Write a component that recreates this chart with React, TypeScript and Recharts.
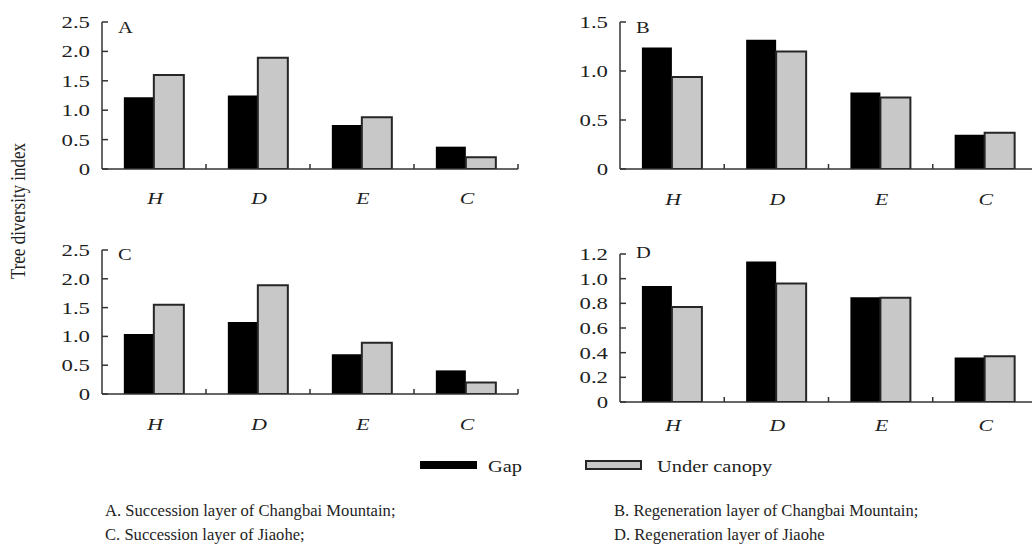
import React from 'react';
import { BarChart, Bar, XAxis, YAxis } from 'recharts';

// ---------- data ----------
const categories = ['H', 'D', 'E', 'C'];

const aGap = [1.22, 1.25, 0.75, 0.38];
const aUnder = [1.6, 1.89, 0.88, 0.2];
const bGap = [1.24, 1.32, 0.78, 0.35];
const bUnder = [0.94, 1.2, 0.73, 0.37];
const cGap = [1.04, 1.25, 0.69, 0.41];
const cUnder = [1.55, 1.89, 0.89, 0.2];
const dGap = [0.94, 1.14, 0.85, 0.36];
const dUnder = [0.77, 0.96, 0.845, 0.37];

const ticksAC = [0, 0.5, 1.0, 1.5, 2.0, 2.5];
const ticksB = [0, 0.5, 1.0, 1.5];
const ticksD = [0, 0.2, 0.4, 0.6, 0.8, 1.0, 1.2];

const panelLetters = ['A', 'B', 'C', 'D'];
const seriesNames = ['Gap', 'Under canopy'];
const yTitle = 'Tree diversity index';
const captions = [
  'A. Succession layer of Changbai Mountain;',
  'B. Regeneration layer of Changbai Mountain;',
  'C. Succession layer of Jiaohe;',
  'D. Regeneration layer of Jiaohe',
];

// ---------- style ----------
const FONT = '"Liberation Serif", "Times New Roman", serif';
const TXT = '#1e1e1e';
const AXIS = '#333';
const SX = 1.28; // horizontal stretch of the source figure (axis text)
const CAP_SX = 0.95; // captions
const GAP_FILL = '#000000';
const UNDER_FILL = '#c8c8c8';
const UNDER_STROKE = '#262626';

const CW = 522;
const CH = 215;
const YW = 60;

type PanelCfg = {
  letter: string;
  gap: number[];
  under: number[];
  ticks: number[];
  left: number;
  top: number;
  margin: { top: number; right: number; bottom: number; left: number };
  labelDy: number;
  letterDy: number;
};

const panels: PanelCfg[] = [
  { letter: panelLetters[0], gap: aGap, under: aUnder, ticks: ticksAC, left: 0, top: 0,
    margin: { top: 22, right: 4, bottom: 6, left: 42 }, labelDy: 35, letterDy: 11 },
  { letter: panelLetters[1], gap: bGap, under: bUnder, ticks: ticksB, left: 518, top: 0,
    margin: { top: 22, right: 3, bottom: 6, left: 42 }, labelDy: 36, letterDy: 11 },
  { letter: panelLetters[2], gap: cGap, under: cUnder, ticks: ticksAC, left: 0, top: 228,
    margin: { top: 22, right: 4, bottom: 9, left: 42 }, labelDy: 36, letterDy: 10 },
  { letter: panelLetters[3], gap: dGap, under: dUnder, ticks: ticksD, left: 518, top: 228,
    margin: { top: 26, right: 3, bottom: 1, left: 42 }, labelDy: 29, letterDy: 4 },
];

function SText(props: {
  x: number; y: number; anchor?: 'start' | 'middle' | 'end'; italic?: boolean; size?: number;
  sx?: number; children: React.ReactNode;
}) {
  const { x, y, anchor = 'start', italic = false, size = 16, sx = SX, children } = props;
  return (
    <text
      transform={`translate(${x},${y}) scale(${sx},1)`}
      x={0}
      y={0}
      textAnchor={anchor}
      fontFamily={FONT}
      fontSize={size}
      fontStyle={italic ? 'italic' : 'normal'}
      fill={TXT}
    >
      {children}
    </text>
  );
}

const fmt = (v: number) => (v === 0 ? '0' : v.toFixed(1));

function Panel({ cfg }: { cfg: PanelCfg }) {
  const data = categories.map((c, i) => ({ cat: c, gap: cfg.gap[i], under: cfg.under[i] }));
  const plotW = CW - cfg.margin.left - cfg.margin.right - YW;
  const halfBand = plotW / categories.length / 2;
  const maxV = cfg.ticks[cfg.ticks.length - 1];

  const xTick = (p: any) => {
    const { x, y, payload } = p;
    return (
      <g>
        <line x1={x + halfBand} x2={x + halfBand} y1={y} y2={y - 5} stroke={AXIS} strokeWidth={1.5} />
        <SText x={x + 1} y={y + cfg.labelDy} anchor="middle" italic size={17}>
          {payload.value}
        </SText>
      </g>
    );
  };

  const yTick = (p: any) => {
    const { x, y, payload } = p;
    return (
      <g>
        <line x1={x} x2={x + 6} y1={y} y2={y} stroke={AXIS} strokeWidth={1.5} />
        <SText x={x - 12} y={y + 6} anchor="end" size={17.5} sx={1.3}>
          {fmt(payload.value)}
        </SText>
      </g>
    );
  };

  const letterLabel = (p: any) => {
    const vb = p.viewBox || {};
    return (
      <SText x={(vb.x ?? 0) + (vb.width ?? 0) + 16} y={(vb.y ?? 0) + cfg.letterDy}>
        {cfg.letter}
      </SText>
    );
  };

  return (
    <div style={{ position: 'absolute', left: cfg.left, top: cfg.top, width: CW, height: CH }}>
      <BarChart
        width={CW}
        height={CH}
        data={data}
        margin={cfg.margin}
        barCategoryGap="21%"
        barGap={0}
      >
        <XAxis
          dataKey="cat"
          height={40}
          interval={0}
          tickLine={false}
          tickSize={0}
          tickMargin={0}
          axisLine={{ stroke: AXIS, strokeWidth: 1.5 }}
          tick={xTick}
        />
        <YAxis
          width={YW}
          domain={[0, maxV]}
          ticks={cfg.ticks}
          interval={0}
          allowDataOverflow
          tickLine={false}
          tickSize={0}
          tickMargin={0}
          axisLine={{ stroke: AXIS, strokeWidth: 1.5 }}
          tick={yTick}
          label={{ content: letterLabel }}
        />
        <Bar dataKey="gap" name={seriesNames[0]} fill={GAP_FILL} isAnimationActive={false} />
        <Bar
          dataKey="under"
          name={seriesNames[1]}
          fill={UNDER_FILL}
          stroke={UNDER_STROKE}
          strokeWidth={2}
          isAnimationActive={false}
        />
      </BarChart>
    </div>
  );
}

export default function App() {
  return (
    <div
      style={{
        position: 'absolute',
        left: 0,
        top: 0,
        width: 1032,
        height: 554,
        overflow: 'hidden',
        background: '#fff',
      }}
    >
      {panels.map((p) => (
        <Panel key={p.letter} cfg={p} />
      ))}
      <svg
        width={1032}
        height={554}
        style={{ position: 'absolute', left: 0, top: 0, pointerEvents: 'none' }}
      >
        <text
          transform={`translate(25,211) rotate(-90) scale(1,${SX})`}
          textAnchor="middle"
          fontFamily={FONT}
          fontSize={17}
          fill={TXT}
        >
          {yTitle}
        </text>
        {/* legend */}
        <rect x={420} y={461} width={57} height={8} fill={GAP_FILL} />
        <SText x={488} y={472}>{seriesNames[0]}</SText>
        <rect x={586} y={461} width={55} height={8} fill={UNDER_FILL} stroke={UNDER_STROKE} strokeWidth={2} />
        <SText x={657} y={472}>{seriesNames[1]}</SText>
        {/* captions */}
        <SText x={105} y={516} sx={CAP_SX} size={17.5}>{captions[0]}</SText>
        <SText x={614} y={516} sx={CAP_SX} size={17.5}>{captions[1]}</SText>
        <SText x={105} y={540} sx={CAP_SX} size={17.5}>{captions[2]}</SText>
        <SText x={614} y={540} sx={CAP_SX} size={17.5}>{captions[3]}</SText>
      </svg>
    </div>
  );
}
